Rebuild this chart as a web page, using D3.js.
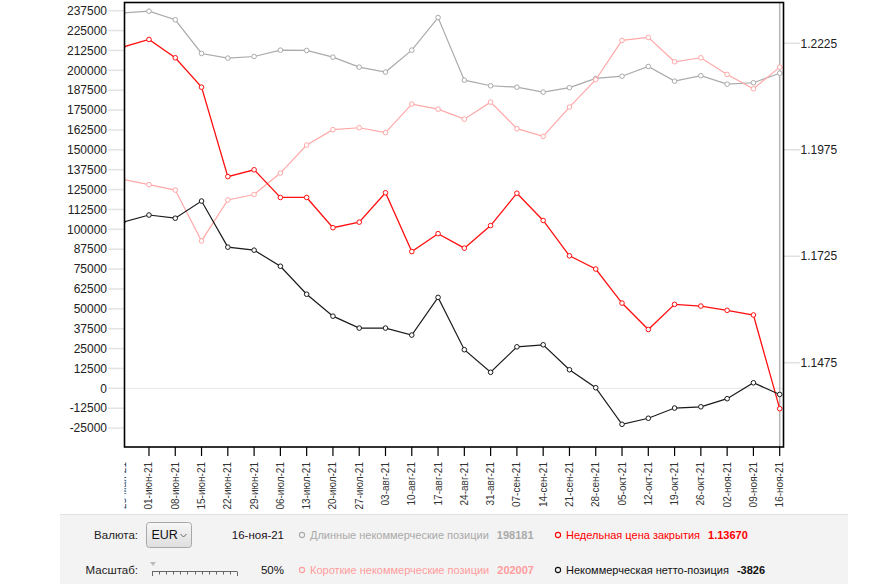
<!DOCTYPE html>
<html>
<head>
<meta charset="utf-8">
<script src="https://cdn.jsdelivr.net/npm/d3@7/dist/d3.min.js"></script>
<style>
html,body{margin:0;padding:0;background:#fff;}
svg{display:block;font-family:"Liberation Sans",Arial,sans-serif;}
</style>
</head>
<body>
<svg id="chart" width="892" height="584"></svg>
<script>
// ---- data ----
const dates = ["25-май-21","01-июн-21","08-июн-21","15-июн-21","22-июн-21","29-июн-21","06-июл-21","13-июл-21","20-июл-21","27-июл-21","03-авг-21","10-авг-21","17-авг-21","24-авг-21","31-авг-21","07-сен-21","14-сен-21","21-сен-21","28-сен-21","05-окт-21","12-окт-21","19-окт-21","26-окт-21","02-ноя-21","09-ноя-21","16-ноя-21"];
const longPos = [236100,237200,231800,210600,207700,208700,212700,212500,208300,202000,198900,212700,233200,193800,190300,189400,186300,189100,194900,196300,202400,193200,196600,191300,192200,198181];
const shortPos = [131500,128100,124700,92700,118500,121900,135400,153000,162700,163900,160800,178800,175600,169300,180000,163300,158500,176900,194100,218800,220700,205400,207900,197400,188400,202007];
const netPos = [104400,109000,107000,117800,88800,86900,76800,59200,45400,37900,37900,33500,57200,24300,10100,26100,27400,11700,400,-22600,-18800,-12400,-11600,-6500,3500,-3826];
const price = [1.2216,1.2234,1.2191,1.2122,1.1912,1.1928,1.1863,1.1863,1.1792,1.1805,1.1874,1.1736,1.1778,1.1744,1.1797,1.1873,1.1809,1.1726,1.1695,1.1615,1.1553,1.1612,1.1608,1.1598,1.1587,1.1367];
const leftTicks = [-25000,-12500,0,12500,25000,37500,50000,62500,75000,87500,100000,112500,125000,137500,150000,162500,175000,187500,200000,212500,225000,237500];
const rightTicks = [1.1475,1.1725,1.1975,1.2225];
const legendItems = [
  {label:"Длинные некоммерческие позиции", value:"198181", color:"#aaaaaa"},
  {label:"Короткие некоммерческие позиции", value:"202007", color:"#ff9c9c"},
  {label:"Недельная цена закрытия", value:"1.13670", color:"#ff0000"},
  {label:"Некоммерческая нетто-позиция", value:"-3826", color:"#111111"}
];
const currency = "EUR";
const currentDate = "16-ноя-21";
const scaleText = "50%";

// ---- layout ----
const svg = d3.select("#chart");
const frame = {left:124.5, right:783.5, top:2.5, bottom:447};

const x = d3.scalePoint().domain(dates).range([122.7, 779.7]);
const yL = d3.scaleLinear().domain([-25000, 237500]).range([428.1, 10.7]);
const yR = d3.scaleLinear().domain([1.1475, 1.2225]).range([362.7, 43.3]);

svg.append("defs").append("clipPath").attr("id","plotclip")
  .append("rect").attr("x",frame.left).attr("y",frame.top)
  .attr("width",frame.right-frame.left).attr("height",frame.bottom-frame.top);
svg.select("defs").append("clipPath").attr("id","xlabclip")
  .append("rect").attr("x",frame.left).attr("y",frame.bottom)
  .attr("width",400+frame.right).attr("height",80);

// left axis ticks
const lg = svg.append("g");
lg.selectAll("line").data(leftTicks).enter().append("line")
  .attr("x1",108).attr("x2",frame.left).attr("y1",d=>yL(d)).attr("y2",d=>yL(d))
  .attr("stroke","#e3e3e3").attr("stroke-width",1.5);
lg.selectAll("text").data(leftTicks).enter().append("text")
  .attr("x",107).attr("y",d=>yL(d)).attr("dy","0.35em")
  .attr("text-anchor","end").attr("font-size",12).attr("fill","#222")
  .text(d=>d);

// zero line
svg.append("line").attr("x1",frame.left).attr("x2",frame.right)
  .attr("y1",yL(0)).attr("y2",yL(0)).attr("stroke","#ebebeb").attr("stroke-width",1.2);

// right axis
const rg = svg.append("g");
rg.selectAll("line").data(rightTicks).enter().append("line")
  .attr("x1",frame.right).attr("x2",800).attr("y1",d=>yR(d)).attr("y2",d=>yR(d))
  .attr("stroke","#e0e0e0").attr("stroke-width",1.5);
rg.selectAll("text").data(rightTicks).enter().append("text")
  .attr("x",800.5).attr("y",d=>yR(d)).attr("dy","0.35em")
  .attr("font-size",12).attr("fill","#222")
  .text(d=>d.toFixed(4));

// right axis vertical line (at last date)
svg.append("line").attr("x1",x(dates[dates.length-1])).attr("x2",x(dates[dates.length-1]))
  .attr("y1",frame.top).attr("y2",frame.bottom).attr("stroke","#b5b5b5").attr("stroke-width",1.5);

// series
const plot = svg.append("g").attr("clip-path","url(#plotclip)");
function drawSeries(vals, yScale, color, width){
  const pts = vals.map((v,i)=>[x(dates[i]), yScale(v)]);
  plot.append("path").attr("d", d3.line()(pts)).attr("fill","none")
    .attr("stroke",color).attr("stroke-width",width);
  plot.append("g").selectAll("circle").data(pts).enter().append("circle")
    .attr("cx",d=>d[0]).attr("cy",d=>d[1]).attr("r",2.3)
    .attr("fill","#fff").attr("stroke",color).attr("stroke-width",1);
}
drawSeries(longPos, yL, "#aaaaaa", 1.2);
drawSeries(shortPos, yL, "#ffa8a8", 1.2);
drawSeries(price, yR, "#ff1010", 1.3);
drawSeries(netPos, yL, "#1a1a1a", 1.2);

// frame
svg.append("rect").attr("x",frame.left).attr("y",frame.top)
  .attr("width",frame.right-frame.left).attr("height",frame.bottom-frame.top)
  .attr("fill","none").attr("stroke","#000").attr("stroke-width",1.6);

// x axis ticks + labels
const xg = svg.append("g");
xg.selectAll("line").data(dates.slice(1)).enter().append("line")
  .attr("x1",d=>x(d)).attr("x2",d=>x(d)).attr("y1",frame.bottom).attr("y2",frame.bottom+9)
  .attr("stroke","#000").attr("stroke-width",1.2);
xg.append("g").attr("clip-path","url(#xlabclip)").selectAll("text").data(dates).enter().append("text")
  .attr("transform",d=>`translate(${x(d)},${frame.bottom+15}) rotate(-90)`)
  .attr("dy","0.35em").attr("text-anchor","end")
  .attr("font-size",10).attr("fill","#333")
  .text(d=>d);

// ---- bottom panel ----
const panel = svg.append("g");
panel.append("rect").attr("x",60).attr("y",514).attr("width",788).attr("height",70).attr("fill","#f3f3f3");
panel.append("line").attr("x1",60).attr("x2",848).attr("y1",514.5).attr("y2",514.5).attr("stroke","#e2e2e2");

const row1 = 535, row2 = 570;
panel.append("text").attr("x",138).attr("y",row1).attr("dy","0.35em").attr("text-anchor","end")
  .attr("font-size",11.5).attr("fill","#222").text("Валюта:");
panel.append("text").attr("x",138).attr("y",row2).attr("dy","0.35em").attr("text-anchor","end")
  .attr("font-size",11.5).attr("fill","#222").text("Масштаб:");

// select box
const grad = svg.select("defs").append("linearGradient").attr("id","selgrad").attr("x1",0).attr("y1",0).attr("x2",0).attr("y2",1);
grad.append("stop").attr("offset","0%").attr("stop-color","#f7f7f7");
grad.append("stop").attr("offset","100%").attr("stop-color","#dedede");
panel.append("rect").attr("x",146.5).attr("y",522.5).attr("width",45).attr("height",25).attr("rx",3)
  .attr("fill","url(#selgrad)").attr("stroke","#a8a8a8");
panel.append("text").attr("x",151.5).attr("y",row1).attr("dy","0.35em").attr("font-size",12.5).attr("fill","#111").text(currency);
panel.append("path").attr("d","M180.5,534 L183.5,537 L186.5,534").attr("fill","none").attr("stroke","#666").attr("stroke-width",1);

// date and scale %
panel.append("text").attr("x",284).attr("y",row1).attr("dy","0.35em").attr("text-anchor","end")
  .attr("font-size",11.5).attr("fill","#201020").text(currentDate);
panel.append("text").attr("x",284).attr("y",row2).attr("dy","0.35em").attr("text-anchor","end")
  .attr("font-size",11.5).attr("fill","#111").text(scaleText);

// slider ruler
const sl = panel.append("g").attr("stroke","#666").attr("stroke-width",1).attr("fill","none");
sl.append("line").attr("x1",152).attr("x2",237).attr("y1",571.5).attr("y2",571.5);
d3.range(0,13).forEach(i=>{
  const xx = 152 + i*(85/12);
  sl.append("line").attr("x1",Math.round(xx)+0.5).attr("x2",Math.round(xx)+0.5)
    .attr("y1",571.5).attr("y2", (i===0||i===12)?576:574.5);
});
panel.append("path").attr("d","M150,562 L156,562 L153,566 Z").attr("fill","#bbb");

// legend
const legPos = [
  {x:302, y:row1}, {x:302, y:row2}, {x:558, y:row1}, {x:558, y:row2}
];
legendItems.forEach((it,i)=>{
  const p = legPos[i];
  panel.append("circle").attr("cx",p.x).attr("cy",p.y).attr("r",2.6)
    .attr("fill","none").attr("stroke",it.color).attr("stroke-width",1.1);
  const t = panel.append("text").attr("x",p.x+8).attr("y",p.y).attr("dy","0.35em")
    .attr("font-size",11).attr("fill",it.color);
  t.append("tspan").text(it.label);
  t.append("tspan").attr("dx",8).attr("font-weight","bold").text(it.value);
});
</script>
</body>
</html>
